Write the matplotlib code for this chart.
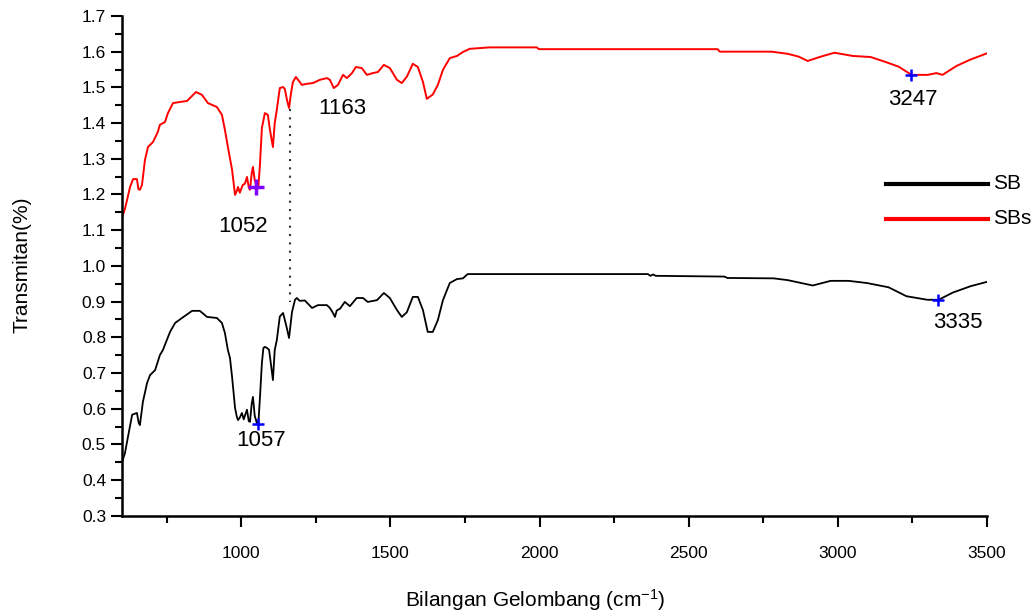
import matplotlib
matplotlib.use('Agg')
import matplotlib.pyplot as plt
from matplotlib.ticker import MultipleLocator
import numpy as np

plt.rcParams['font.family'] = ['Liberation Sans Narrow', 'Liberation Sans', 'DejaVu Sans']
plt.rcParams['mathtext.fontset'] = 'custom'
plt.rcParams['mathtext.rm'] = 'Liberation Sans Narrow'
plt.rcParams['mathtext.default'] = 'regular'

# SB spectrum (black)
sb_x = [600, 610, 620, 634, 650, 656, 660, 670, 684, 694, 711, 727, 737, 761, 778, 801,
        835, 861, 885, 918, 935, 945, 955, 962, 969, 979, 985, 989, 995, 1002, 1008, 1014,
        1019, 1025, 1029, 1035, 1039, 1045, 1052, 1057, 1062, 1069, 1074, 1079, 1086, 1093,
        1100, 1106, 1112, 1119, 1129, 1140, 1150, 1160, 1170, 1180, 1186, 1196, 1213, 1237,
        1257, 1287, 1297, 1306, 1314, 1320, 1331, 1347, 1364, 1387, 1408, 1424, 1455, 1478,
        1498, 1522, 1538, 1555, 1575, 1592, 1609, 1625, 1642, 1659, 1676, 1699, 1723, 1743,
        1759, 1833, 2363, 2372, 2380, 2390, 2400, 2620, 2630, 2641, 2785, 2832, 2916, 2976,
        3036, 3097, 3170, 3230, 3300, 3338, 3385, 3445, 3499]
sb_y = [0.45, 0.476, 0.521, 0.583, 0.588, 0.56, 0.554, 0.619, 0.672, 0.694, 0.708, 0.750,
        0.764, 0.815, 0.840, 0.854, 0.874, 0.874, 0.857, 0.854, 0.840, 0.812, 0.764, 0.742,
        0.689, 0.602, 0.577, 0.568, 0.575, 0.588, 0.57, 0.585, 0.597, 0.565, 0.563, 0.615,
        0.633, 0.58, 0.560, 0.556, 0.624, 0.728, 0.770, 0.773, 0.770, 0.765, 0.72, 0.680,
        0.764, 0.792, 0.858, 0.868, 0.835, 0.798, 0.871, 0.905, 0.910, 0.902, 0.903, 0.882,
        0.890, 0.890, 0.882, 0.870, 0.857, 0.875, 0.880, 0.899, 0.887, 0.910, 0.910, 0.899,
        0.904, 0.924, 0.910, 0.876, 0.857, 0.870, 0.913, 0.913, 0.876, 0.815, 0.815, 0.848,
        0.904, 0.952, 0.963, 0.965, 0.977, 0.977, 0.977, 0.972, 0.976, 0.972, 0.972, 0.970,
        0.966, 0.966, 0.965, 0.960, 0.945, 0.958, 0.958, 0.952, 0.940, 0.915, 0.905, 0.905,
        0.925, 0.943, 0.955]

# SBs spectrum (red)
sbs_x = [600, 603, 610, 617, 627, 637, 650, 655, 660, 667, 677, 687, 704, 720, 727, 744,
         754, 771, 794, 818, 848, 868, 888, 918, 935, 945, 955, 969, 979, 985, 989, 995,
         1005, 1012, 1019, 1025, 1029, 1035, 1039, 1045, 1052, 1057, 1062, 1069, 1079, 1089,
         1096, 1106, 1112, 1119, 1129, 1140, 1146, 1153, 1160, 1166, 1173, 1183, 1196, 1203,
         1220, 1240, 1263, 1287, 1297, 1310, 1324, 1341, 1354, 1371, 1384, 1404, 1421, 1441,
         1458, 1478, 1498, 1522, 1538, 1555, 1575, 1592, 1609, 1622, 1642, 1659, 1676, 1699,
         1723, 1743, 1766, 1833, 1991, 1997, 2597, 2604, 2778, 2832, 2869, 2899, 2939, 2959,
         2989, 3050, 3110, 3157, 3204, 3247, 3301, 3331, 3351, 3398, 3445, 3499]
sbs_y = [1.13, 1.143, 1.16, 1.185, 1.221, 1.243, 1.243, 1.215, 1.213, 1.227, 1.297, 1.333,
         1.347, 1.375, 1.395, 1.403, 1.428, 1.456, 1.459, 1.462, 1.487, 1.479, 1.456, 1.445,
         1.423, 1.381, 1.333, 1.269, 1.199, 1.21, 1.221, 1.205, 1.227, 1.23, 1.249, 1.22,
         1.213, 1.26, 1.277, 1.24, 1.221, 1.22, 1.277, 1.386, 1.428, 1.423, 1.381, 1.333,
         1.40, 1.437, 1.498, 1.501, 1.495, 1.465, 1.442, 1.48, 1.515, 1.529, 1.515, 1.507,
         1.510, 1.512, 1.521, 1.526, 1.521, 1.498, 1.507, 1.535, 1.526, 1.540, 1.557, 1.554,
         1.535, 1.540, 1.543, 1.563, 1.554, 1.521, 1.512, 1.530, 1.566, 1.557, 1.515, 1.468,
         1.480, 1.507, 1.549, 1.582, 1.588, 1.599, 1.608, 1.612, 1.612, 1.607, 1.607, 1.600,
         1.600, 1.594, 1.586, 1.574, 1.585, 1.590, 1.597, 1.588, 1.585, 1.572, 1.558, 1.535,
         1.535, 1.540, 1.535, 1.560, 1.578, 1.595]

# peak labels: (x, y, text)
peak_x = [1005, 1337, 3250, 1066, 3401]
peak_y = [1.109, 1.442, 1.465, 0.510, 0.84]
peak_txt = ['1052', '1163', '3247', '1057', '3335']

fig = plt.figure(figsize=(10.34, 6.14), dpi=100)
ax = fig.add_axes([0.118, 0.160, 0.8365, 0.814])

ax.plot(sb_x, sb_y, color='black', lw=1.3)
ax.plot(sbs_x, sbs_y, color='#ff0000', lw=1.4)

# dotted guide at 1163
ax.plot([1163, 1163], [1.44, 0.90], color='#333333', lw=1.5, linestyle=(0, (1, 3)))

# peak markers
ax.plot([1048], [1.221], marker='+', color='#8000ff', ms=12, mew=2.5)
ax.plot([3247], [1.535], marker='+', color='#0000ff', ms=9, mew=1.8)
ax.plot([1057], [0.556], marker='+', color='#0000ff', ms=9, mew=1.8)
ax.plot([3335], [0.905], marker='+', color='#0000ff', ms=9, mew=1.8)

for px, py, t in zip(peak_x, peak_y, peak_txt):
    ax.text(px, py, t, fontsize=16, ha='center', va='center')

ax.set_xlim(600, 3500)
ax.set_ylim(0.3, 1.7)
ax.xaxis.set_major_locator(MultipleLocator(500))
ax.xaxis.set_minor_locator(MultipleLocator(250))
ax.yaxis.set_major_locator(MultipleLocator(0.1))
ax.yaxis.set_minor_locator(MultipleLocator(0.05))
ax.set_xticks([1000, 1500, 2000, 2500, 3000, 3500])
ax.set_yticks(np.arange(0.3, 1.71, 0.1))
ax.set_yticklabels([f'{v:.1f}' for v in np.arange(0.3, 1.71, 0.1)])
ax.tick_params(axis='both', which='major', direction='out', length=8, width=1.5, labelsize=12.5)
ax.tick_params(axis='both', which='minor', direction='out', length=5, width=1.5)
ax.tick_params(axis='x', which='both', pad=14)

for s in ['top', 'right']:
    ax.spines[s].set_visible(False)
for s in ['left', 'bottom']:
    ax.spines[s].set_linewidth(1.8)

# legend drawn by hand
ax.plot([0.883, 1.001], [0.664, 0.664], transform=ax.transAxes, color='black', lw=3, clip_on=False)
ax.plot([0.883, 1.001], [0.594, 0.594], transform=ax.transAxes, color='#ff0000', lw=3, clip_on=False)
ax.text(1.007, 0.664, 'SB', transform=ax.transAxes, fontsize=15, va='center', ha='left')
ax.text(1.007, 0.594, 'SBs', transform=ax.transAxes, fontsize=15, va='center', ha='left')

fig.text(0.021, 0.568, 'Transmitan(%)', rotation=90, fontsize=15, ha='center', va='center')
fig.text(0.518, 0.023, 'Bilangan Gelombang (cm$^{-1}$)', fontsize=15, ha='center', va='center')

plt.savefig('out.png', dpi=100)
